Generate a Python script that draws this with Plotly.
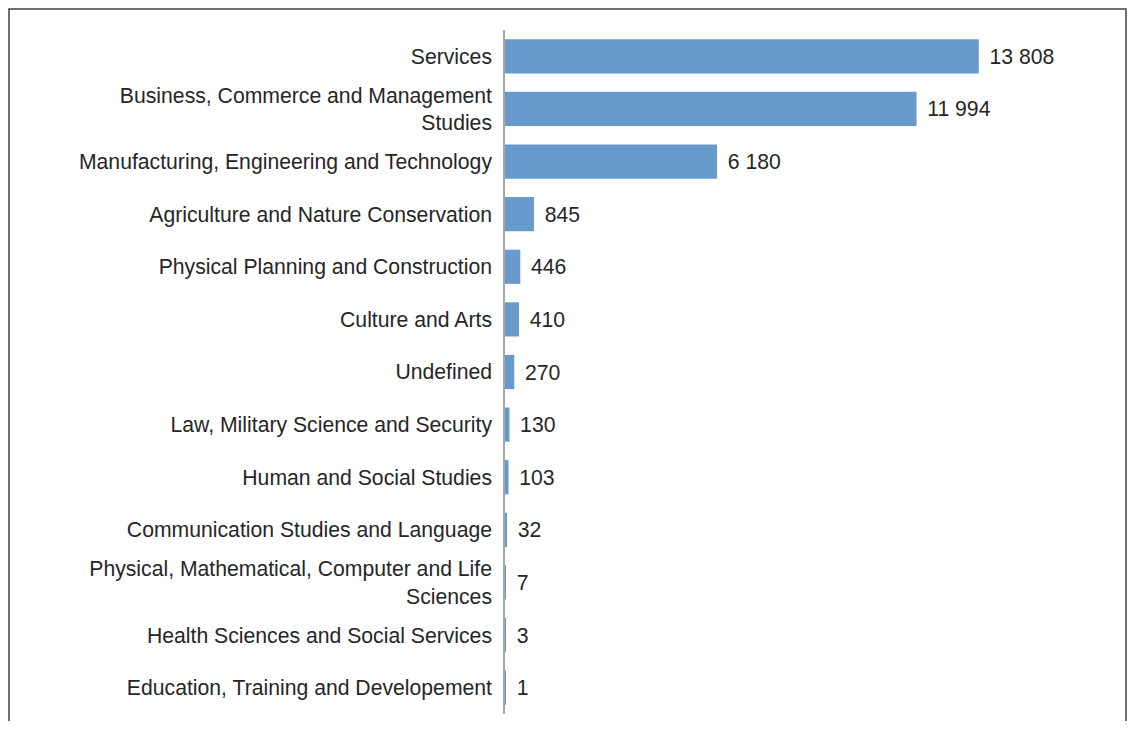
import plotly.graph_objects as go

categories = [
    "Services",
    "Business, Commerce and Management<br>Studies",
    "Manufacturing, Engineering and Technology",
    "Agriculture and Nature Conservation",
    "Physical Planning and Construction",
    "Culture and Arts",
    "Undefined",
    "Law, Military Science and Security",
    "Human and Social Studies",
    "Communication Studies and Language",
    "Physical, Mathematical, Computer and Life<br>Sciences",
    "Health Sciences and Social Services",
    "Education, Training and Developement",
]
values = [13808, 11994, 6180, 845, 446, 410, 270, 130, 103, 32, 7, 3, 1]

bar_color = "#689bcc"
text_color = "#262626"

fig = go.Figure(
    go.Bar(
        x=values,
        y=categories,
        orientation="h",
        marker=dict(color=bar_color, line=dict(width=0)),
        texttemplate="\u00a0\u200a%{x:,}",
        textposition="outside",
        textfont=dict(size=21.2, color=text_color),
        cliponaxis=False,
        hoverinfo="skip",
    )
)

# page body keeps an 8px margin, so keep the figure inside the window
fig.update_layout(
    width=1120,
    height=713,
    margin=dict(l=497, r=74, t=22, b=7),
    plot_bgcolor="white",
    paper_bgcolor="white",
    separators=". ",
    bargap=0.35,
    showlegend=False,
    font=dict(family="Liberation Sans, Arial, sans-serif", size=21.2, color=text_color),
    xaxis=dict(range=[0, 16000], visible=False, fixedrange=True),
    yaxis=dict(
        autorange="reversed",
        showline=True,
        linecolor="#a6a6a6",
        linewidth=1.5,
        showgrid=False,
        ticks="",
        ticklabelstandoff=7,
        tickfont=dict(size=21.2, color=text_color),
    ),
    shapes=[
        dict(
            type="rect",
            xref="paper", yref="paper",
            xsizemode="pixel", ysizemode="pixel",
            xanchor=0, yanchor=1,
            x0=-496, x1=621, y0=21, y1=-800,
            line=dict(color="#404040", width=1.5),
            fillcolor="rgba(0,0,0,0)",
            layer="below",
        )
    ],
)

fig.write_html("out.html")
